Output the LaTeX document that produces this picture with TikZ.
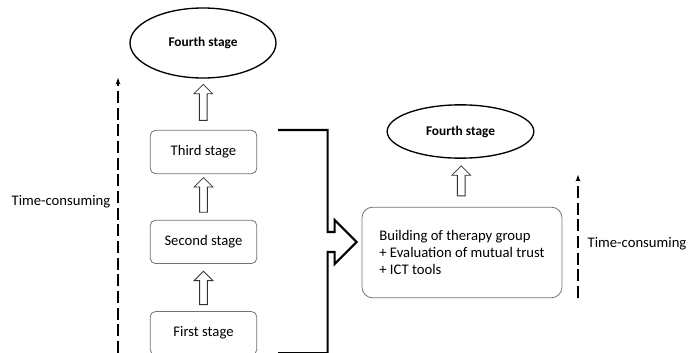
\documentclass[tikz,border=0pt]{standalone}
\usepackage{fontspec}
\setmainfont{Carlito}
\usetikzlibrary{positioning,shapes.geometric,shapes.arrows,arrows.meta,calc}
\tikzset{
    stagebox/.style={draw=black!55, line width=0.6pt, rounded corners=4pt, minimum width=80pt, minimum height=32.5pt},
    fourthstage/.style={draw, ellipse, line width=1pt, font=\bfseries},
    hollowup/.style={draw=black!80, line width=0.6pt, single arrow, rotate=90, inner sep=0pt, inner ysep=2.6pt, single arrow head extend=4.1pt},
    timearrow/.style={line width=0.9pt, dash pattern=on 9pt off 3.5pt, -{Stealth[length=5pt,width=3.5pt]}},
    bracket/.style={line width=1.6pt, line join=miter}
}

\begin{document}
\begin{tikzpicture}[x=0.75pt, y=-0.75pt, font=\fontsize{11}{13}\selectfont]
    \useasboundingbox (0,0) rectangle (696,353);

    % left column
    \node [fourthstage] [minimum width=109.5pt, minimum height=52.5pt] (fourthL) at (203,43)   {Fourth stage};
    \node [stagebox]                                                  (third)   at (203.5,152) {Third stage};
    \node [stagebox] [below=34.3pt of third]                         (second)                 {Second stage};
    \node [stagebox] [below=35.4pt of second]                        (first)                  {First stage};

    \node [hollowup] [minimum height=27pt] (upA) at ($(fourthL.south)!0.5!(third.north)$) {};
    \node [hollowup] [minimum height=26pt] (upB) at ($(third.south)!0.5!(second.north)$) {};
    \node [hollowup] [minimum height=25pt] (upC) at ($(second.south)!0.55!(first.north)$) {};

    % right column
    \node [stagebox] [minimum width=150pt, minimum height=68pt, rounded corners=8pt, align=left] (build) at (462,252.5)
        {Building of therapy group\\+ Evaluation of mutual trust\\+ ICT tools};
    \node [fourthstage] [minimum width=110pt, minimum height=40pt] (fourthR) at (460.5,131.5) {Fourth stage};
    \node [hollowup] [minimum height=22.5pt] (upD) at ($(fourthR.south)!0.5!(build.north)$) {};

    % bracket with the big arrow
    \coordinate (tip) at ($(build.west)+(-5,-10.5)$);
    \draw [bracket] ([xshift=15.75pt]third.north east) -| ($(tip)+(-29,-10)$) -- ++(7,0) -- ++(0,-12) -- (tip)
        -- ++(-22,22) -- ++(0,-12) -- ++(-7,0) |- ([xshift=15.75pt, yshift=1.6pt]first.south east);

    % time arrows
    \coordinate (tlbot) at (118,353);
    \coordinate (tltop) at (118,78);
    \draw [timearrow] (tlbot) -- (tltop);
    \node [anchor=east] (timeL) at (115,202) {Time-consuming};

    \coordinate (trbot) at (578,298);
    \coordinate (trtop) at (578,175);
    \draw [timearrow] (trbot) -- (trtop);
    \node [anchor=west] (timeR) at (583,244) {Time-consuming};
\end{tikzpicture}
\end{document}
